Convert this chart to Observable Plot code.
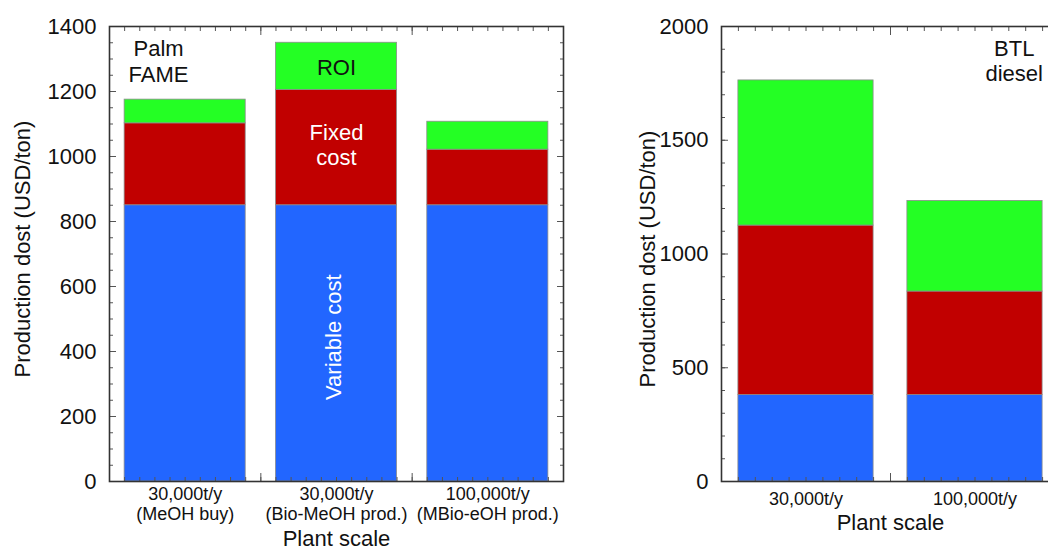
<!DOCTYPE html>
<html><head><meta charset="utf-8">
<script src="https://cdn.jsdelivr.net/npm/d3@7"></script>
<script src="https://cdn.jsdelivr.net/npm/@observablehq/plot@0.6"></script>
<style>
html,body{margin:0;padding:0;background:#fff;}
#wrap{position:relative;width:1048px;height:550px;overflow:hidden;background:#fff;}
#left{position:absolute;left:0;top:0;width:600px;height:550px;}
#right{position:absolute;left:600px;top:0;width:480px;height:550px;}
#wrap svg{max-width:none !important;display:block;}
</style></head><body>
<div id="wrap"><div id="left"></div><div id="right"></div></div>
<script>
// ---- data ----
const components = ["Variable cost", "Fixed cost", "ROI"];
const componentColors = ["#2266ff", "#c10000", "#24ff24"];

const fameCategories = ["30,000t/y\n(MeOH buy)", "30,000t/y\n(Bio-MeOH prod.)", "100,000t/y\n(MBio-eOH prod.)"];
const fameVariable = [850, 850, 850];
const fameFixed = [252, 355, 171];
const fameROI = [73, 145, 86];
const fameYMajor = [0, 200, 400, 600, 800, 1000, 1200, 1400];
const fameYMinor = d3.range(0, 1401, 50);

const btlCategories = ["30,000t/y", "100,000t/y"];
const btlVariable = [380, 380];
const btlFixed = [745, 455];
const btlROI = [638, 398];
const btlYMajor = [0, 500, 1000, 1500, 2000];
const btlYMinor = d3.range(0, 2001, 100);

const yTitle = "Production dost (USD/ton)";
const xTitle = "Plant scale";

const fameNotes = [
  {x: 0.824, y: 1294, text: "Palm\nFAME", fill: "#111", rotate: 0},
  {x: 2, y: 1277, text: "ROI", fill: "#111", rotate: 0},
  {x: 2, y: 1038, text: "Fixed\ncost", fill: "#fff", rotate: 0},
  {x: 1.975, y: 444, text: "Variable cost", fill: "#fff", rotate: -90}
];
const btlNotes = [
  {x: 2.232, y: 1850, text: "BTL\ndiesel", fill: "#111", rotate: 0}
];

// ---- helpers ----
function stackRows(cats, series) {
  const rows = [];
  cats.forEach((c, i) => {
    let base = 0;
    series.forEach(([name, vals]) => {
      rows.push({pos: i + 1, component: name, y1: base, y2: base + vals[i]});
      base += vals[i];
    });
  });
  return rows;
}

function chart(o) {
  const n = o.cats.length;
  const xMinor = d3.range(0, n * 10 + 1).map(k => 0.5 + k / 10);
  const xMajor = d3.range(0, n + 1).map(k => 0.5 + k);
  const tickStroke = "#555";
  return Plot.plot({
    width: o.width, height: 550,
    marginLeft: o.marginLeft, marginRight: o.marginRight, marginTop: 26, marginBottom: 69,
    style: {fontFamily: "'Liberation Sans', Arial, sans-serif", background: "#fff", color: "#111", overflow: "visible"},
    x: {domain: [0.5, n + 0.5]},
    y: {domain: [0, o.yMax]},
    color: {domain: components, range: componentColors},
    marks: [
      Plot.rect(o.rows, {x1: d => d.pos - 0.4, x2: d => d.pos + 0.4, y1: "y1", y2: "y2", fill: "component", stroke: "#8c8c8c", strokeWidth: 0.8}),
      // inward ticks, all four sides
      Plot.axisY({anchor: "left", ticks: o.yMinor, tickSize: -4, fill: "none", label: null, stroke: tickStroke}),
      Plot.axisY({anchor: "left", ticks: o.yMajor, tickSize: -7, fill: "none", label: null, stroke: tickStroke}),
      Plot.axisY({anchor: "right", ticks: o.yMinor, tickSize: -4, fill: "none", label: null, stroke: tickStroke}),
      Plot.axisY({anchor: "right", ticks: o.yMajor, tickSize: -7, fill: "none", label: null, stroke: tickStroke}),
      Plot.axisX({anchor: "bottom", ticks: xMinor, tickSize: -4, fill: "none", label: null, stroke: tickStroke}),
      Plot.axisX({anchor: "bottom", ticks: xMajor, tickSize: -8, fill: "none", label: null, stroke: tickStroke}),
      Plot.axisX({anchor: "top", ticks: xMinor, tickSize: -4, fill: "none", label: null, stroke: tickStroke}),
      Plot.axisX({anchor: "top", ticks: xMajor, tickSize: -8, fill: "none", label: null, stroke: tickStroke}),
      // tick labels
      Plot.axisY({anchor: "left", ticks: o.yMajor, tickFormat: d => String(d), tickSize: 0, tickPadding: 13, fontSize: 22, label: null, fill: "#111"}),
      Plot.axisX({anchor: "bottom", ticks: d3.range(1, n + 1), tickFormat: i => o.cats[i - 1], tickSize: 0, tickPadding: o.xTickPad, fontSize: 18, lineHeight: 1.08, label: null, fill: "#111"}),
      Plot.frame({stroke: "#333", strokeWidth: 1.6}),
      // annotations
      Plot.text(o.notes, {x: "x", y: "y", text: "text", fill: "fill", rotate: "rotate", fontSize: 22, lineHeight: 1.15}),
      // titles
      Plot.text([yTitle], {text: d => d, frameAnchor: "left", textAnchor: "middle", lineAnchor: "middle", dx: o.yTitleDx, dy: o.yTitleDy, rotate: -90, fontSize: 22, fill: "#111"}),
      Plot.text([xTitle], {text: d => d, frameAnchor: "bottom", textAnchor: "middle", lineAnchor: "middle", dy: o.xTitleDy, fontSize: 22, fill: "#111"})
    ]
  });
}

document.getElementById("left").append(chart({
  cats: fameCategories,
  rows: stackRows(fameCategories, [["Variable cost", fameVariable], ["Fixed cost", fameFixed], ["ROI", fameROI]]),
  yMax: 1400, yMajor: fameYMajor, yMinor: fameYMinor,
  width: 600, marginLeft: 109, marginRight: 37,
  xTickPad: 5, xTitleDy: 57, yTitleDx: -87, yTitleDy: -5, notes: fameNotes
}));

document.getElementById("right").append(chart({
  cats: btlCategories,
  rows: stackRows(btlCategories, [["Variable cost", btlVariable], ["Fixed cost", btlFixed], ["ROI", btlROI]]),
  yMax: 2000, yMajor: btlYMajor, yMinor: btlYMinor,
  width: 480, marginLeft: 121, marginRight: 21,
  xTickPad: 10, xTitleDy: 41, yTitleDx: -74, yTitleDy: 5, notes: btlNotes
}));
</script>
</body></html>
